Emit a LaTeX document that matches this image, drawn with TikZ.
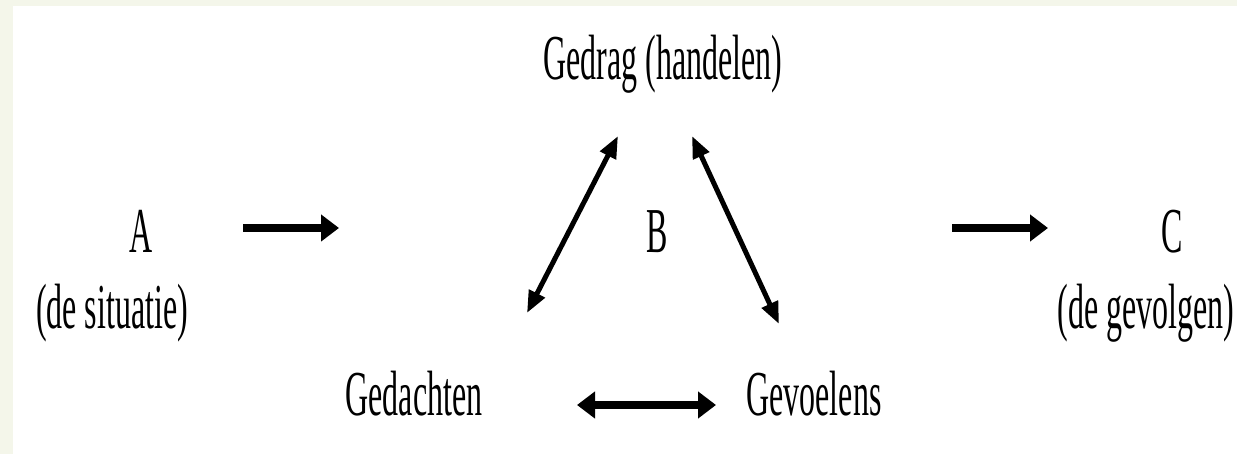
\documentclass[tikz,border=0pt]{standalone}
\usepackage{fontspec}
\setmainfont[FakeStretch=0.5]{Liberation Serif}
\usetikzlibrary{arrows.meta}
\definecolor{cream}{HTML}{F4F6EA}
\begin{document}
\begin{tikzpicture}[x=1pt,y=-1pt,
  lbl/.style={anchor=base,inner sep=0pt,font=\fontsize{64}{70}\selectfont},
  harrow/.style={line width=8pt,-{Triangle[length=18pt,width=26pt]}},
  hdarrow/.style={line width=8pt,{Triangle[length=18pt,width=26pt]}-{Triangle[length=18pt,width=26pt]}},
  darrow/.style={line width=5pt,{Triangle[length=22pt,width=17pt]}-{Triangle[length=22pt,width=17pt]}}]
\useasboundingbox (0,0) rectangle (1237,454);
\fill[cream] (0,0) rectangle (1237,454);
\fill[white] (13,6) rectangle (1237,454);
% labels
\node[lbl] (gedrag) at (663,80) {Gedrag (handelen)};
\node[lbl] (a) at (141,253) {A};
\node[lbl] (asit) at (112,328) {(de situatie)};
\node[lbl] (b) at (657,253) {B};
\node[lbl] (c) at (1172,253) {C};
\node[lbl] (cgev) at (1146,328) {(de gevolgen)};
\node[lbl] (gedachten) at (414,415) {Gedachten};
\node[lbl] (gevoelens) at (814,415) {Gevoelens};
% arrow end points
\coordinate (a1) at (243,228);
\coordinate (a2) at (339,228);
\coordinate (c1) at (952,228);
\coordinate (c2) at (1048,228);
\coordinate (h1) at (577,405);
\coordinate (h2) at (716,405);
\coordinate (l1) at (527,313);
\coordinate (l2) at (618,136);
\coordinate (r1) at (692,136);
\coordinate (r2) at (779,324);
\draw[harrow] (a1) -- (a2);
\draw[harrow] (c1) -- (c2);
\draw[hdarrow] (h1) -- (h2);
\draw[darrow] (l1) -- (l2);
\draw[darrow] (r1) -- (r2);
\end{tikzpicture}
\end{document}
